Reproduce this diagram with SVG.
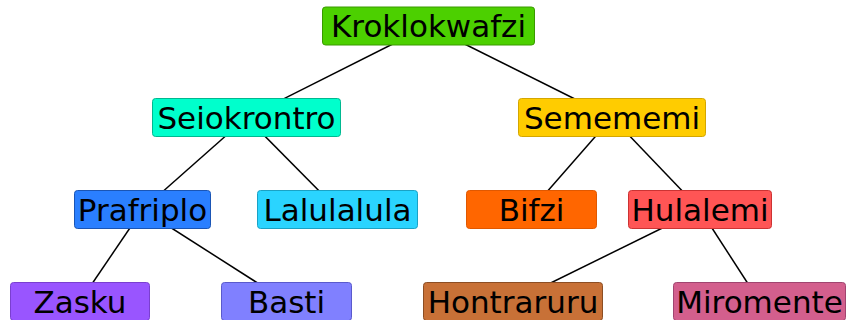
<svg xmlns="http://www.w3.org/2000/svg" width="847" height="320" viewBox="0 0 847 320">
<style>
.n rect{stroke-width:1;rx:3;ry:3}
.n text{font-family:"DejaVu Sans",sans-serif;font-size:31px;fill:#000;text-anchor:middle}
.e line{stroke:#000;stroke-width:1.5}
</style>
<rect width="847" height="320" fill="#fff"/>
<g id="connectors" class="e">
<line x1="428.5" y1="26" x2="246.5" y2="117.5"/>
<line x1="428.5" y1="26" x2="612" y2="117.5"/>
<line x1="246.5" y1="117.5" x2="142.5" y2="209.5"/>
<line x1="246.5" y1="117.5" x2="337.5" y2="209.5"/>
<line x1="612" y1="117.5" x2="531.5" y2="209.5"/>
<line x1="612" y1="117.5" x2="700" y2="209.5"/>
<line x1="142.5" y1="209.5" x2="80" y2="301.5"/>
<line x1="142.5" y1="209.5" x2="286.5" y2="301.5"/>
<line x1="700" y1="209.5" x2="513" y2="301.5"/>
<line x1="700" y1="209.5" x2="759.5" y2="301.5"/>
</g>
<g id="Kroklokwafzi" class="n"><rect x="322.5" y="7" width="212" height="38" fill="#4cd000" stroke="#3a9a00"/><text x="428.5" y="37">Kroklokwafzi</text></g>
<g id="Seiokrontro" class="n"><rect x="152.5" y="98.5" width="188" height="38" fill="#00ffcc" stroke="#00b890"/><text x="246.5" y="128.5">Seiokrontro</text></g>
<g id="Semememi" class="n"><rect x="518.5" y="98.5" width="187" height="38" fill="#ffcc00" stroke="#d4a600"/><text x="612" y="128.5">Semememi</text></g>
<g id="Prafriplo" class="n"><rect x="74.5" y="190.5" width="136" height="38" fill="#2a7fff" stroke="#1a55b5"/><text x="142.5" y="220.5">Prafriplo</text></g>
<g id="Lalulalula" class="n"><rect x="257.5" y="190.5" width="160" height="38" fill="#2ad4ff" stroke="#1aa2c5"/><text x="337.5" y="220.5">Lalulalula</text></g>
<g id="Bifzi" class="n"><rect x="466.5" y="190.5" width="130" height="38" fill="#ff6600" stroke="#e05800"/><text x="531.5" y="220.5">Bifzi</text></g>
<g id="Hulalemi" class="n"><rect x="628.5" y="190.5" width="143" height="38" fill="#ff5555" stroke="#cc3333"/><text x="700" y="220.5">Hulalemi</text></g>
<g id="Zasku" class="n"><rect x="10.5" y="282.5" width="139" height="38" fill="#9955ff" stroke="#7a3fd0"/><text x="80" y="312.5">Zasku</text></g>
<g id="Basti" class="n"><rect x="221.5" y="282.5" width="130" height="38" fill="#8080ff" stroke="#5a5acc"/><text x="286.5" y="312.5">Basti</text></g>
<g id="Hontraruru" class="n"><rect x="423.5" y="282.5" width="179" height="38" fill="#c87137" stroke="#8c4e24"/><text x="513" y="312.5">Hontraruru</text></g>
<g id="Miromente" class="n"><rect x="673.5" y="282.5" width="172" height="38" fill="#d35f8d" stroke="#a04570"/><text x="759.5" y="312.5">Miromente</text></g>
</svg>
